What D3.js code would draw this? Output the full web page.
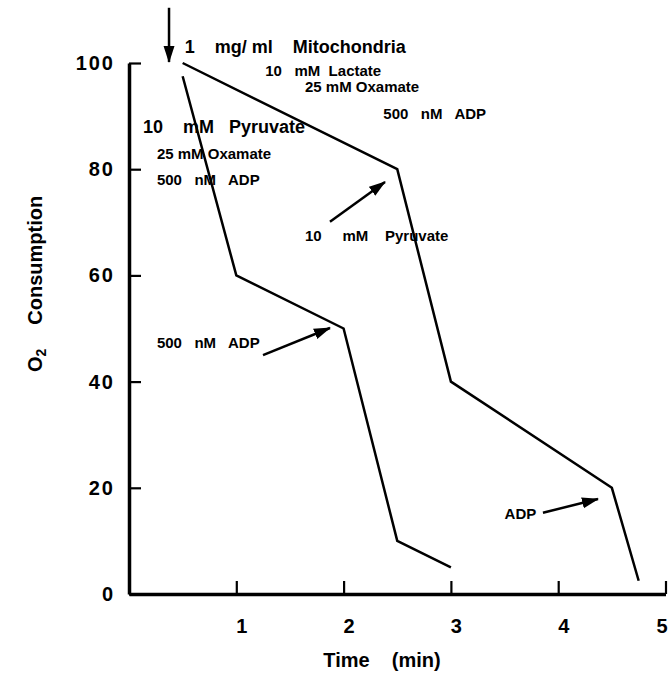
<!DOCTYPE html>
<html lang="en">
  <head>
    <meta charset="utf-8">
    <title>O2 Consumption</title>
    <script src="https://d3js.org/d3.v7.min.js"></script>
    <style>
      body { margin: 0; background: #fff; }
      svg text { font-family: 'Liberation Sans', Arial, sans-serif; font-weight: bold; fill: #000; }
    </style>
  </head>
  <body>
    <div id="chart"></div>
    <script>
      // axis ticks
      let timeTicks = [1, 2, 3, 4, 5]
      let o2Ticks = [0, 20, 40, 60, 80, 100]

      // left trace (pyruvate)
      let pyruvateTime = [0.5, 1.0, 2.0, 2.5, 3.0]
      let pyruvateO2 = [97.5, 60, 50, 10, 5]

      // right trace (lactate)
      let lactateTime = [0.5, 2.5, 3.0, 4.5, 4.75]
      let lactateO2 = [100, 80, 40, 20, 2.5]

      // notes on the plot, anchored in data units (time, O2)
      let noteText = ['1    mg/ ml    Mitochondria', '10   mM  Lactate', '25 mM Oxamate', '500   nM   ADP',
                      '10    mM   Pyruvate', '25 mM Oxamate', '500   nM   ADP',
                      '10     mM    Pyruvate', '500   nM   ADP', 'ADP']
      let noteTime = [0.52, 1.27, 1.64, 2.37, 0.13, 0.26, 0.26, 1.64, 0.26, 3.50]
      let noteO2 = [101.9, 97.6, 94.5, 89.5, 86.8, 81.9, 77.0, 66.5, 46.3, 14.1]
      let noteBig = [true, false, false, false, true, false, false, false, false, false]

      // arrows: from (time, O2) to (time, O2)
      let arrowFrom = [[0.373, 110.4], [1.873, 70.1], [1.249, 45.0], [3.858, 15.3]]
      let arrowTo = [[0.373, 100.2], [2.386, 77.6], [1.873, 50.1], [4.371, 17.9]]

      let width = 669
      let height = 676

      let svg = d3.select('#chart').append('svg')
        .attr('width', width)
        .attr('height', height)

      let x = d3.scaleLinear().domain([0, 5]).range([129, 665.5])
      let y = d3.scaleLinear().domain([0, 100]).range([594, 63])

      // arrow head
      svg.append('defs').append('marker')
        .attr('id', 'head')
        .attr('markerUnits', 'userSpaceOnUse')
        .attr('viewBox', '0 -6 17 12')
        .attr('refX', 16)
        .attr('refY', 0)
        .attr('markerWidth', 17)
        .attr('markerHeight', 12)
        .attr('orient', 'auto')
        .append('path')
        .attr('d', 'M0,-5.5L17,0L0,5.5Z')
        .attr('fill', '#000')

      // axes
      let xAxis = svg.append('g')
        .attr('transform', 'translate(0,' + y(0) + ')')
        .call(d3.axisBottom(x).tickValues(timeTicks).tickFormat(d3.format('d'))
          .tickSizeInner(-13).tickSizeOuter(0).tickPadding(25))
      xAxis.select('.domain').attr('stroke-width', 3.5)
      xAxis.selectAll('.tick line').attr('stroke-width', 2.2)
      // last label sits at the window edge, pull it in so it stays whole
      xAxis.selectAll('.tick text').attr('font-size', 20).attr('dx', d => d === 5 ? -4 : 5)

      let yAxis = svg.append('g')
        .attr('transform', 'translate(' + x(0) + ',0)')
        .call(d3.axisLeft(y).tickValues(o2Ticks).tickSizeInner(-12).tickSizeOuter(0).tickPadding(14))
      yAxis.select('.domain').attr('stroke-width', 3.5)
      yAxis.selectAll('.tick line').attr('stroke-width', 2.2)
      yAxis.selectAll('.tick text').attr('font-size', 20).attr('letter-spacing', 2)

      svg.selectAll('.domain, .tick line').attr('stroke', '#000')
      svg.selectAll('.tick text').attr('fill', '#000').attr('font-family', null)

      // axis titles
      svg.append('text')
        .attr('x', 382)
        .attr('y', 667)
        .attr('text-anchor', 'middle')
        .attr('font-size', 20)
        .style('white-space', 'pre')
        .text('Time    (min)')

      let yTitle = svg.append('text')
        .attr('transform', 'translate(42,372) rotate(-90)')
        .attr('font-size', 20)
      yTitle.append('tspan').text('O')
      yTitle.append('tspan').attr('font-size', 14).attr('dy', 4).text('2')
      yTitle.append('tspan').attr('dx', 24).attr('dy', -4).text('Consumption')

      // traces
      let line = d3.line()
        .x(d => x(d[0]))
        .y(d => y(d[1]))

      let traces = [d3.zip(pyruvateTime, pyruvateO2), d3.zip(lactateTime, lactateO2)]
      svg.selectAll('path.trace')
        .data(traces)
        .enter()
        .append('path')
        .attr('class', 'trace')
        .attr('d', line)
        .attr('fill', 'none')
        .attr('stroke', '#000')
        .attr('stroke-width', 2.5)
        .attr('stroke-linejoin', 'miter')

      // arrows
      svg.selectAll('line.arrow')
        .data(d3.zip(arrowFrom, arrowTo))
        .enter()
        .append('line')
        .attr('class', 'arrow')
        .attr('x1', d => x(d[0][0]))
        .attr('y1', d => y(d[0][1]))
        .attr('x2', d => x(d[1][0]))
        .attr('y2', d => y(d[1][1]))
        .attr('stroke', '#000')
        .attr('stroke-width', 2.5)
        .attr('marker-end', 'url(#head)')

      // notes
      svg.selectAll('text.note')
        .data(d3.range(noteText.length))
        .enter()
        .append('text')
        .attr('class', 'note')
        .attr('x', i => x(noteTime[i]))
        .attr('y', i => y(noteO2[i]))
        .attr('font-size', i => noteBig[i] ? 18 : 15)
        .style('white-space', 'pre')
        .text(i => noteText[i])
    </script>
  </body>
</html>
